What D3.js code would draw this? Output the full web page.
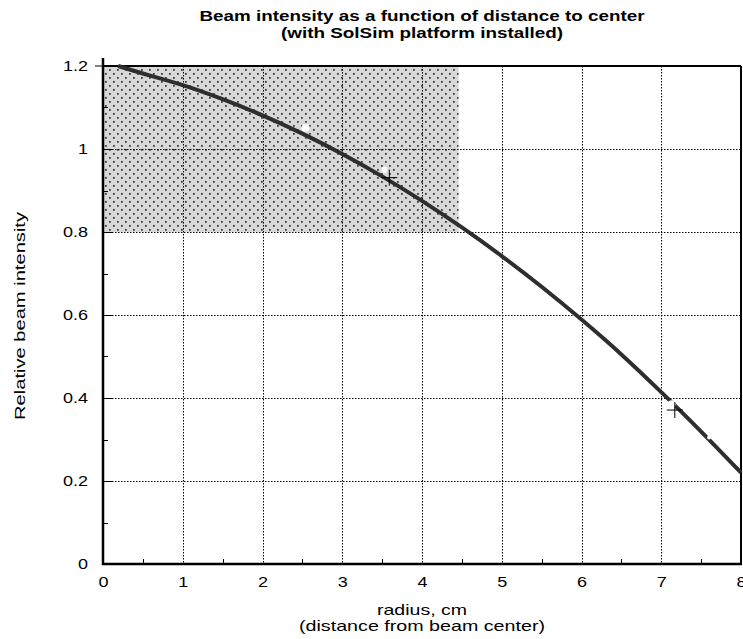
<!DOCTYPE html>
<html>
<head>
<meta charset="utf-8">
<script src="https://cdn.jsdelivr.net/npm/d3@7"></script>
<style>
  body { margin: 0; background: #fff; }
  svg { display: block; font-family: "Liberation Sans", Arial, sans-serif; }
</style>
</head>
<body>
<svg id="chart" width="743" height="639"></svg>
<script>
// curve
var radius = [0.19, 0.5, 1, 1.5, 2, 2.5, 3, 3.5, 4, 4.5, 5, 5.5, 6, 6.5, 7, 7.5, 8];
var intensity = [1.2, 1.182, 1.154, 1.12, 1.081, 1.037, 0.988, 0.934, 0.875, 0.811, 0.742, 0.668, 0.589, 0.505, 0.414, 0.319, 0.22];

// white dots and crosses along the curve
var dotX = [2.54, 3.53, 7.13, 7.6];
var dotY = [1.051, 0.95, 0.385, 0.305];
var crossX = [3.59, 7.17];
var crossY = [0.931, 0.371];

// shaded region
var zoneX = [0, 4.46];
var zoneY = [0.8, 1.2];

var xTicks = [0, 1, 2, 3, 4, 5, 6, 7, 8];
var yTicks = [0, 0.2, 0.4, 0.6, 0.8, 1, 1.2];
var xMinor = [0.5, 1.5, 2.5, 3.5, 4.5, 5.5, 6.5, 7.5];
var yMinor = [0.1, 0.3, 0.5, 0.7, 0.9, 1.1];

var titleLines = ["Beam intensity as a function of distance to center", "(with SolSim platform installed)"];
var xTitleLines = ["radius, cm", "(distance from beam center)"];
var yTitle = "Relative beam intensity";

var padL = 103, padR = 741, padT = 66, padB = 564;

var svg = d3.select('#chart');
var x = d3.scaleLinear().domain([0, 8]).range([padL, padR]);
var y = d3.scaleLinear().domain([0, 1.2]).range([padB, padT]);

// the reference text is drawn a bit wider than the font, stretch it
function widen(sel, k) {
	sel.each(function () {
		var w = this.getComputedTextLength();
		d3.select(this).attr('textLength', w * k).attr('lengthAdjust', 'spacingAndGlyphs');
	});
}

// dotted fill pattern
var defs = svg.append('defs');
var pat = defs.append('pattern')
	.attr('id', 'dots')
	.attr('patternUnits', 'userSpaceOnUse')
	.attr('width', 8).attr('height', 8);
pat.append('rect').attr('width', 8).attr('height', 8).attr('fill', '#d8d8d8');
pat.append('rect').attr('x', 1).attr('y', 1).attr('width', 1.8).attr('height', 1.8).attr('fill', '#404040');
pat.append('rect').attr('x', 5).attr('y', 5).attr('width', 1.8).attr('height', 1.8).attr('fill', '#404040');

svg.append('rect')
	.attr('x', x(zoneX[0]))
	.attr('y', y(zoneY[1]))
	.attr('width', x(zoneX[1]) - x(zoneX[0]))
	.attr('height', y(zoneY[0]) - y(zoneY[1]))
	.attr('fill', 'url(#dots)');

// grid
var grid = svg.append('g').attr('stroke', '#000').attr('stroke-width', 1).attr('stroke-dasharray', '1.5,1.5');
grid.selectAll('line.gx')
	.data(xTicks.slice(1, -1))
	.enter().append('line')
	.attr('x1', function (d) { return Math.round(x(d)) + 0.5; })
	.attr('x2', function (d) { return Math.round(x(d)) + 0.5; })
	.attr('y1', padT).attr('y2', padB);
grid.selectAll('line.gy')
	.data(yTicks.slice(1, -1))
	.enter().append('line')
	.attr('y1', function (d) { return Math.round(y(d)) + 0.5; })
	.attr('y2', function (d) { return Math.round(y(d)) + 0.5; })
	.attr('x1', padL).attr('x2', padR);

// axes
var xAxis = d3.axisBottom(x).tickValues(xTicks).tickSize(0).tickPadding(12).tickFormat(d3.format('d'));
var gx = svg.append('g').attr('transform', 'translate(0,' + padB + ')').call(xAxis);
gx.select('.domain').remove();
gx.selectAll('text').attr('font-size', 15).attr('fill', '#000').attr('font-family', null).call(widen, 1.2);

var yAxis = d3.axisLeft(y).tickValues(yTicks).tickSize(0).tickPadding(15).tickFormat(function (d) { return String(+d.toFixed(1)); });
var gy = svg.append('g').attr('transform', 'translate(' + padL + ',0)').call(yAxis);
gy.select('.domain').remove();
gy.selectAll('text').attr('font-size', 15).attr('fill', '#000').attr('font-family', null).call(widen, 1.2);

// ticks inside the frame
var ticks = svg.append('g').attr('stroke', '#000').attr('stroke-width', 1);
ticks.selectAll('line.mx')
	.data(xMinor)
	.enter().append('line')
	.attr('x1', function (d) { return Math.round(x(d)) + 0.5; })
	.attr('x2', function (d) { return Math.round(x(d)) + 0.5; })
	.attr('y1', padB).attr('y2', padB - 5);
ticks.selectAll('line.my')
	.data(yMinor)
	.enter().append('line')
	.attr('y1', function (d) { return Math.round(y(d)) + 0.5; })
	.attr('y2', function (d) { return Math.round(y(d)) + 0.5; })
	.attr('x1', padL).attr('x2', padL + 5);
ticks.selectAll('line.My')
	.data(yTicks.slice(0, -1))
	.enter().append('line')
	.attr('y1', function (d) { return Math.round(y(d)) + 0.5; })
	.attr('y2', function (d) { return Math.round(y(d)) + 0.5; })
	.attr('x1', padL).attr('x2', padL + 9);
ticks.append('line')
	.attr('x1', padL - 8).attr('x2', padL)
	.attr('y1', y(1.2)).attr('y2', y(1.2));

// frame
svg.append('line').attr('x1', padL).attr('x2', padR).attr('y1', padT).attr('y2', padT)
	.attr('stroke', '#000').attr('stroke-width', 2);
svg.append('line').attr('x1', padR).attr('x2', padR).attr('y1', padT).attr('y2', padB)
	.attr('stroke', '#000').attr('stroke-width', 2);
svg.append('line').attr('x1', padL).attr('x2', padL).attr('y1', padT - 8).attr('y2', padB + 1)
	.attr('stroke', '#000').attr('stroke-width', 2.5);
svg.append('line').attr('x1', padL - 1).attr('x2', padR + 1).attr('y1', padB).attr('y2', padB)
	.attr('stroke', '#000').attr('stroke-width', 2.5);

// curve
var line = d3.line()
	.x(function (d, i) { return x(radius[i]); })
	.y(function (d, i) { return y(intensity[i]); })
	.curve(d3.curveNatural);
svg.append('path')
	.datum(radius)
	.attr('d', line)
	.attr('fill', 'none')
	.attr('stroke', '#2e2e2e')
	.attr('stroke-width', 4);

svg.selectAll('circle.dot')
	.data(dotX)
	.enter().append('circle')
	.attr('cx', function (d) { return x(d); })
	.attr('cy', function (d, i) { return y(dotY[i]); })
	.attr('r', function (d, i) { return i === 3 ? 2 : (i === 1 ? 3 : 4); })
	.attr('fill', '#fff');

var crosses = svg.append('g').attr('stroke', '#000').attr('stroke-width', 1);
crossX.forEach(function (cx, i) {
	var px = x(cx), py = y(crossY[i]);
	crosses.append('line').attr('x1', px - 8).attr('x2', px + 8).attr('y1', py).attr('y2', py);
	crosses.append('line').attr('x1', px).attr('x2', px).attr('y1', py - 8).attr('y2', py + 8);
});

// titles
var midX = (padL + padR) / 2;
var titleWidths = [445, 282];
svg.append('text')
	.attr('text-anchor', 'middle')
	.attr('font-size', 15).attr('font-weight', 'bold')
	.selectAll('tspan')
	.data(titleLines)
	.enter().append('tspan')
	.attr('x', midX)
	.attr('y', function (d, i) { return 21 + i * 17; })
	.attr('textLength', function (d, i) { return titleWidths[i]; })
	.attr('lengthAdjust', 'spacingAndGlyphs')
	.text(function (d) { return d; });

var xTitleWidths = [90, 246];
svg.append('text')
	.attr('text-anchor', 'middle')
	.attr('font-size', 15)
	.selectAll('tspan')
	.data(xTitleLines)
	.enter().append('tspan')
	.attr('x', midX)
	.attr('y', function (d, i) { return 615 + i * 16; })
	.attr('textLength', function (d, i) { return xTitleWidths[i]; })
	.attr('lengthAdjust', 'spacingAndGlyphs')
	.text(function (d) { return d; });

svg.append('text')
	.attr('transform', 'translate(25,316) rotate(-90)')
	.attr('text-anchor', 'middle')
	.attr('font-size', 15)
	.attr('textLength', 208)
	.attr('lengthAdjust', 'spacingAndGlyphs')
	.text(yTitle);
</script>
</body>
</html>
